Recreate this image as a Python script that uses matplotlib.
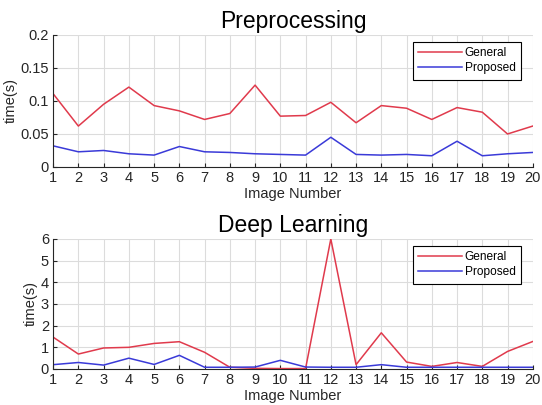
import matplotlib
matplotlib.use("Agg")
import matplotlib.pyplot as plt
import numpy as np

plt.rcParams['font.family'] = ['Liberation Sans', 'DejaVu Sans']

images = list(range(1, 21))
pre_general = [0.111, 0.062, 0.095, 0.121, 0.093, 0.085, 0.072, 0.081, 0.124, 0.077,
               0.078, 0.098, 0.067, 0.093, 0.089, 0.072, 0.090, 0.083, 0.050, 0.062]
pre_proposed = [0.032, 0.023, 0.025, 0.020, 0.018, 0.031, 0.023, 0.022, 0.020, 0.019,
                0.018, 0.045, 0.019, 0.018, 0.019, 0.017, 0.039, 0.017, 0.020, 0.022]
dl_general = [1.47, 0.69, 0.97, 1.00, 1.18, 1.26, 0.77, 0.08, 0.03, 0.02,
              0.02, 6.00, 0.20, 1.67, 0.32, 0.12, 0.30, 0.12, 0.81, 1.27]
dl_proposed = [0.20, 0.30, 0.18, 0.50, 0.21, 0.63, 0.08, 0.08, 0.09, 0.40,
               0.09, 0.08, 0.08, 0.20, 0.08, 0.08, 0.08, 0.08, 0.08, 0.08]

red = '#e03a4c'
blue = '#3a3ad8'

fig = plt.figure(figsize=(5.42, 4.05), dpi=100)
ax1 = fig.add_axes([0.098, 0.5877, 0.885, 0.326])
ax2 = fig.add_axes([0.098, 0.0889, 0.885, 0.321])

def style(ax, title, ylim, yticks, yticklabels):
    ax.set_xlim(1, 20)
    ax.set_ylim(*ylim)
    ax.set_xticks(images)
    ax.set_yticks(yticks)
    ax.set_yticklabels(yticklabels)
    ax.grid(True, color='#dcdcdc', linewidth=0.8)
    ax.set_axisbelow(True)
    for s in ['top', 'right']:
        ax.spines[s].set_visible(False)
    for s in ['left', 'bottom']:
        ax.spines[s].set_color('#262626')
        ax.spines[s].set_linewidth(0.8)
    ax.tick_params(direction='in', length=3, labelsize=10.5, colors='#262626',
                   pad=3)
    ax.set_title(title, fontsize=16.5, pad=5)
    ax.set_xlabel('Image Number', fontsize=10.5, color='#262626', labelpad=1)
    ax.set_ylabel('time(s)', fontsize=10.5, color='#262626', labelpad=2)
    leg = ax.legend(loc='upper right', bbox_to_anchor=(0.975, 0.947),
                    fontsize=8.6, handlelength=3.7,
                    fancybox=False, edgecolor='black', framealpha=1,
                    borderaxespad=0, borderpad=0.45, labelspacing=0.25,
                    handletextpad=0.2)
    leg.get_frame().set_linewidth(0.8)

ax1.plot(images, pre_general, color=red, lw=1.1, label='General')
ax1.plot(images, pre_proposed, color=blue, lw=1.1, label='Proposed')
style(ax1, 'Preprocessing', (0, 0.2), [0, 0.05, 0.1, 0.15, 0.2],
      ['0', '0.05', '0.1', '0.15', '0.2'])

ax2.plot(images, dl_general, color=red, lw=1.1, label='General')
ax2.plot(images, dl_proposed, color=blue, lw=1.1, label='Proposed')
style(ax2, 'Deep Learning', (0, 6), [0, 1, 2, 3, 4, 5, 6],
      ['0', '1', '2', '3', '4', '5', '6'])

fig.savefig('out.png', dpi=100)
